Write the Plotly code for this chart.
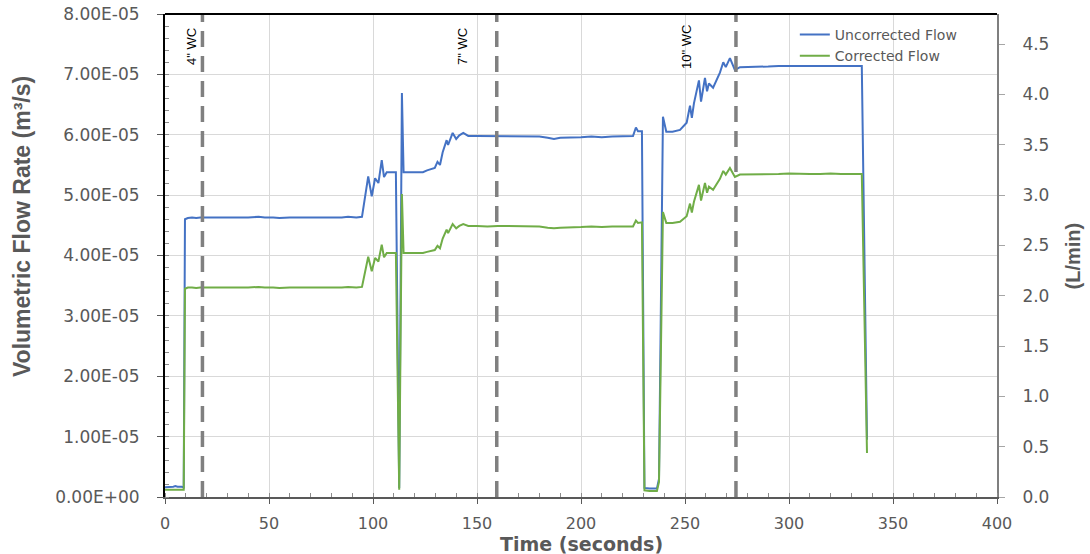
import plotly.graph_objects as go

# ---------------- data ----------------
time_s = [0, 2, 4, 5, 6, 8, 9, 9.6, 11, 13, 15, 17, 20, 23, 26, 30, 33, 36, 40, 45, 48, 52, 55,
          60, 65, 70, 75, 80, 85, 88, 92, 94.7, 96.2, 97.7, 99.4, 101, 102.6, 104.2, 105.3, 106.6,
          108, 110, 111, 112.6, 113.9, 114.7, 117, 120, 122, 124, 126, 128, 129.7, 131, 132.2,
          133.5, 135.4, 136.1, 138.3, 140, 141.5, 143.4, 145.8, 150, 155, 160, 165, 170, 175, 180,
          184, 187, 190, 195, 200, 205, 210, 215, 220, 225, 226.4, 227.4, 229.3, 230.5, 233, 236.5,
          237.5, 239.4, 241, 244, 247.6, 250.8, 252.4, 253.3, 254.3, 256.7, 257.7, 259.6, 260.6,
          261.5, 263.5, 266.8, 268.4, 269.6, 271.6, 274, 276.4, 280, 285, 290, 295, 300, 305, 310,
          315, 320, 325, 330, 335, 337.5]

# Uncorrected flow (units of 1e-5 m3/s)
uncorrected_e5 = [0.16, 0.16, 0.17, 0.18, 0.17, 0.17, 0.16, 4.60, 4.62, 4.63, 4.62, 4.63, 4.63, 4.62,
                  4.63, 4.63, 4.62, 4.63, 4.63, 4.64, 4.63, 4.63, 4.62, 4.63, 4.63, 4.63, 4.62, 4.63,
                  4.63, 4.64, 4.63, 4.64, 4.97, 5.31, 4.98, 5.28, 5.20, 5.58, 5.30, 5.38, 5.38, 5.38,
                  5.38, 0.15, 6.69, 5.38, 5.38, 5.39, 5.38, 5.38, 5.41, 5.43, 5.45, 5.55, 5.50, 5.71,
                  5.91, 5.83, 6.03, 5.93, 5.99, 6.03, 5.98, 5.98, 5.98, 5.98, 5.98, 5.98, 5.97, 5.97,
                  5.95, 5.93, 5.95, 5.95, 5.96, 5.97, 5.96, 5.97, 5.97, 5.98, 6.12, 6.06, 6.06, 0.15,
                  0.14, 0.14, 0.30, 6.30, 6.05, 6.05, 6.08, 6.20, 6.48, 6.28, 6.52, 6.90, 6.55, 6.94,
                  6.72, 6.85, 6.78, 7.03, 7.20, 7.12, 7.27, 7.07, 7.12, 7.12, 7.13, 7.13, 7.14, 7.14,
                  7.14, 7.13, 7.14, 7.14, 7.13, 7.14, 7.14, 0.95]

# Corrected flow (units of 1e-5 m3/s)
corrected_e5 = [0.12, 0.12, 0.13, 0.13, 0.13, 0.13, 0.12, 3.45, 3.47, 3.47, 3.46, 3.47, 3.47, 3.46,
                3.47, 3.47, 3.46, 3.47, 3.47, 3.48, 3.47, 3.47, 3.46, 3.47, 3.47, 3.47, 3.46, 3.47,
                3.47, 3.48, 3.47, 3.48, 3.73, 3.98, 3.74, 3.96, 3.90, 4.18, 3.97, 4.04, 4.04, 4.04,
                4.04, 0.12, 5.02, 4.04, 4.04, 4.04, 4.04, 4.04, 4.06, 4.07, 4.09, 4.16, 4.12, 4.28,
                4.43, 4.37, 4.52, 4.45, 4.49, 4.52, 4.49, 4.49, 4.48, 4.49, 4.49, 4.48, 4.48, 4.48,
                4.46, 4.45, 4.46, 4.46, 4.47, 4.48, 4.47, 4.48, 4.48, 4.48, 4.58, 4.54, 4.55, 0.11,
                0.10, 0.10, 0.25, 4.72, 4.54, 4.54, 4.56, 4.65, 4.86, 4.71, 4.89, 5.17, 4.91, 5.20,
                5.04, 5.14, 5.09, 5.27, 5.40, 5.34, 5.45, 5.30, 5.34, 5.34, 5.35, 5.35, 5.35, 5.36,
                5.35, 5.35, 5.35, 5.36, 5.35, 5.35, 5.35, 0.73]

y_tick_vals = [0, 1e-5, 2e-5, 3e-5, 4e-5, 5e-5, 6e-5, 7e-5, 8e-5]
y_tick_text = ["0.00E+00", "1.00E-05", "2.00E-05", "3.00E-05", "4.00E-05",
               "5.00E-05", "6.00E-05", "7.00E-05", "8.00E-05"]
y2_tick_vals = [0, 0.5, 1.0, 1.5, 2.0, 2.5, 3.0, 3.5, 4.0, 4.5]
y2_tick_text = ["0.0", "0.5", "1.0", "1.5", "2.0", "2.5", "3.0", "3.5", "4.0", "4.5"]
x_tick_vals = [0, 50, 100, 150, 200, 250, 300, 350, 400]

marker_times = [18, 159.5, 274.5]
marker_label_times = [13, 143.3, 251]
marker_labels = ['4" WC', '7" WC', '10" WC']

# ---------------- figure ----------------
uncorrected = [v * 1e-5 for v in uncorrected_e5]
corrected = [v * 1e-5 for v in corrected_e5]

GREY = "#595959"
fig = go.Figure()
fig.add_trace(go.Scatter(x=time_s, y=uncorrected, mode="lines", name="Uncorrected Flow",
                         line=dict(color="#4472C4", width=2)))
fig.add_trace(go.Scatter(x=time_s, y=corrected, mode="lines", name="Corrected Flow",
                         line=dict(color="#70AD47", width=2)))
fig.add_trace(go.Scatter(x=[], y=[], yaxis="y2", showlegend=False, hoverinfo="skip"))

for t in marker_times:
    fig.add_shape(type="line", xref="x", yref="paper", x0=t, x1=t, y0=0, y1=1,
                  line=dict(color="#808080", width=3.5, dash="16px,9px"), layer="above")

for t, lab in zip(marker_label_times, marker_labels):
    fig.add_annotation(x=t, xref="x", y=0.932, yref="paper", text=lab, showarrow=False,
                       textangle=-90, xanchor="center", yanchor="middle",
                       font=dict(family="Liberation Sans Narrow, Liberation Sans, Arial", size=13,
                                 color="#000000"))

# top border
fig.add_shape(type="line", xref="paper", yref="paper", x0=0, x1=1, y0=1, y1=1,
              line=dict(color="#000000", width=2))

tick_font = dict(family="DejaVu Sans, Arial", size=16, color=GREY)
ytick_font = dict(family="DejaVu Sans, Arial", size=17, color=GREY)

fig.update_layout(
    width=1090, height=554,
    margin=dict(l=165, r=93, t=14, b=57, autoexpand=False),
    paper_bgcolor="white", plot_bgcolor="white",
    showlegend=True,
    legend=dict(x=0.757, y=0.99, xanchor="left", yanchor="top", bgcolor="rgba(0,0,0,0)",
                font=dict(family="DejaVu Sans, Arial", size=14, color=GREY),
                tracegroupgap=0),
    xaxis=dict(range=[0, 400], tickvals=x_tick_vals, showgrid=True, gridcolor="#d9d9d9",
               gridwidth=1, zeroline=False, showline=True, linecolor=GREY, linewidth=2,
               ticks="outside", ticklen=5, tickcolor=GREY, tickfont=tick_font,
               ticklabelstandoff=6, automargin=False, ticklabeloverflow="allow",
               minor=dict(ticks="inside", dtick=10, ticklen=4, tickcolor="#8c8c8c",
                          showgrid=False)),
    yaxis=dict(range=[0, 8e-5], tickvals=y_tick_vals, ticktext=y_tick_text, showgrid=True,
               gridcolor="#d9d9d9", gridwidth=1, zeroline=False, showline=True,
               linecolor="#000000", linewidth=2, ticks="outside", ticklen=6,
               tickcolor=GREY, tickfont=ytick_font, ticklabelstandoff=14, automargin=False,
               ticklabeloverflow="allow",
               minor=dict(ticks="inside", dtick=2e-6, ticklen=4, tickcolor="#8c8c8c",
                          showgrid=False)),
    yaxis2=dict(range=[0, 4.8], overlaying="y", side="right", anchor="x",
                tickvals=y2_tick_vals, ticktext=y2_tick_text, showgrid=False, zeroline=False,
                showline=True, linecolor="#7f7f7f", linewidth=2, ticks="outside", ticklen=6,
                tickcolor="#a6a6a6", tickfont=ytick_font, ticklabelstandoff=14,
                automargin=False, ticklabeloverflow="allow"),
)

# axis titles
fig.add_annotation(xref="paper", yref="paper", x=0.5, y=-0.098, text="<b>Time (seconds)</b>",
                   showarrow=False, xanchor="center", yanchor="middle",
                   font=dict(family="DejaVu Sans, Arial", size=19, color=GREY))
fig.add_annotation(xref="paper", yref="paper", x=-0.1719, y=0.561,
                   text="<b>Volumetric Flow Rate (m³/s)</b>", showarrow=False, textangle=-90,
                   xanchor="center", yanchor="middle",
                   font=dict(family="Liberation Sans Narrow, Liberation Sans, Arial", size=23,
                             color=GREY))
fig.add_annotation(xref="paper", yref="paper", x=1.0913, y=0.5, text="<b>(L/min)</b>",
                   showarrow=False, textangle=-90, xanchor="center", yanchor="middle",
                   font=dict(family="Liberation Sans Narrow, Liberation Sans, Arial", size=20,
                             color=GREY))

# remove the browser's default 8px body margin so the figure fills the window exactly
fig.write_html("out.html",
               config={"displayModeBar": False},
               post_script="document.body.style.margin='0px';document.body.style.overflow='hidden';")
